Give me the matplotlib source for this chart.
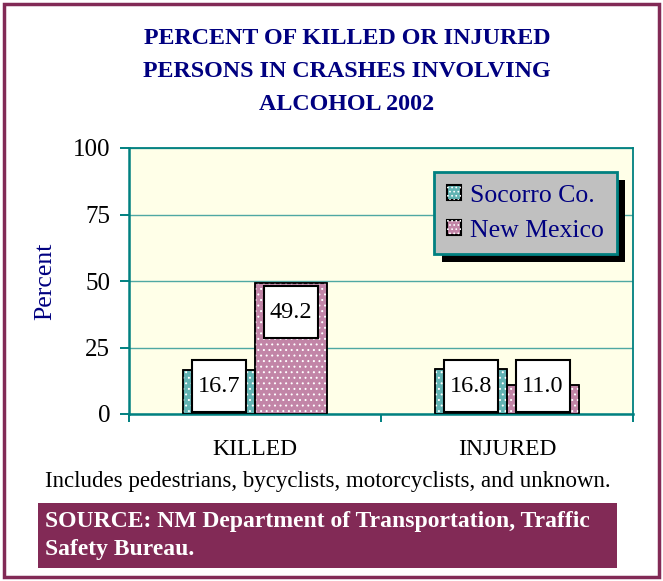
import matplotlib
matplotlib.use("Agg")
import matplotlib.pyplot as plt
from matplotlib.patches import Patch, Rectangle
from matplotlib.legend_handler import HandlerTuple
from matplotlib.transforms import IdentityTransform, blended_transform_factory

# Data
categories = ["KILLED", "INJURED"]
series_names = ["Socorro Co.", "New Mexico"]
socorro = [16.7, 16.8]
new_mexico = [49.2, 11.0]
y_ticks = [0, 25, 50, 75, 100]

title_lines = [
    "PERCENT OF KILLED OR INJURED",
    "PERSONS IN CRASHES INVOLVING",
    "ALCOHOL 2002",
]
footnote = "Includes pedestrians, bycyclists, motorcyclists, and unknown."
source_lines = [
    "SOURCE: NM Department of Transportation, Traffic",
    "Safety Bureau.",
]

# Styling
W, H = 663, 581
TEAL = "#008080"
GRID = "#4FA8A3"
NAVY = "#000080"
MAROON = "#822A56"
PLOT_BG = "#FFFFE8"
BAR_COLORS = ["#62B3B3", "#C285A7"]
SERIF = "Liberation Serif"

plt.rcParams["font.family"] = SERIF
plt.rcParams["hatch.linewidth"] = 0.7


def fx(px):
    return px / W


def fy(py):
    return 1 - py / H


fig = plt.figure(figsize=(W / 100, H / 100), dpi=100)
fig.patch.set_facecolor("white")

# outer maroon frame
fig.add_artist(Rectangle((fx(4), fy(577)), fx(655), 573 / H, transform=fig.transFigure,
                         fill=False, edgecolor=MAROON, linewidth=2.5))

ax = fig.add_axes([fx(129), fy(414), fx(504), 266 / H])
ax.set_facecolor(PLOT_BG)
ax.set_xlim(-0.5, 1.5)
ax.set_ylim(0, 100)
ax.set_axisbelow(True)

width = 0.286
x = list(range(len(categories)))
for i, (vals, color) in enumerate(zip([socorro, new_mexico], BAR_COLORS)):
    xs = [xi + (i - 0.5) * width for xi in x]
    ax.bar(xs, vals, width, color=color, edgecolor="black", linewidth=1.1, zorder=2)
    # white dotted texture on top of the fill
    ax.bar(xs, vals, width, color="none", edgecolor="white", hatch="...",
           linewidth=0, zorder=3)
    ax.bar(xs, vals, width, color="none", edgecolor="black", linewidth=1.1, zorder=4)

    # value labels in white boxes
    box_w, box_h = 0.214, 19.5
    for xc, v in zip(xs, vals):
        yc = max(v - 10.9, 10.5)
        ax.add_patch(Rectangle((xc - box_w / 2, yc - box_h / 2), box_w, box_h,
                               facecolor="white", edgecolor="black", linewidth=1.5,
                               zorder=5))
        ax.text(xc, yc, f"{v:.1f}", ha="center", va="center", fontsize=17.5,
                color="black", zorder=6)

# grid and axes
ax.set_yticks(y_ticks)
ax.yaxis.grid(True, color=GRID, linewidth=1.0)
ax.set_xticks([-0.5, 0.5, 1.5])
ax.set_xticklabels([])
ax.tick_params(axis="y", direction="out", length=6.5, width=1.4, color=TEAL,
               labelsize=18, pad=7, labelcolor="black")
ax.tick_params(axis="x", direction="out", length=6, width=1.4, color=TEAL)
for side in ["left", "bottom"]:
    ax.spines[side].set_color(TEAL)
    ax.spines[side].set_linewidth(1.8)
for side in ["top", "right"]:
    ax.spines[side].set_color(TEAL)
    ax.spines[side].set_linewidth(1.3)

ax.set_ylabel("Percent", fontsize=18.5, color=NAVY, labelpad=12)

# category labels under the groups
trans = blended_transform_factory(ax.transData, ax.transAxes)
for xi, cat in zip(x, categories):
    ax.text(xi, -0.132, cat, transform=trans, ha="center", va="center", fontsize=17)

# legend
handles = []
for color in BAR_COLORS:
    handles.append((Patch(facecolor=color, edgecolor="black", linewidth=1.5),
                    Patch(facecolor="none", edgecolor="white", hatch="....", linewidth=0)))
leg = ax.legend(handles, series_names, handler_map={tuple: HandlerTuple(ndivide=1)},
                loc="upper left", bbox_to_anchor=(0.605, 0.91), borderaxespad=0,
                fontsize=18.5, labelcolor=NAVY, facecolor="#C0C0C0", edgecolor=TEAL,
                framealpha=1, fancybox=False, handlelength=0.55, handleheight=0.55,
                handletextpad=0.35, borderpad=0.5, labelspacing=0.5)
leg.get_frame().set_linewidth(2)
leg.set_zorder(10)

# title
for i, line in enumerate(title_lines):
    fig.text(fx(347), fy(38 + 33.5 * i), line, ha="center", va="center",
             fontsize=17.3, fontweight="bold", color=NAVY)

fig.text(fx(45), fy(481), footnote, ha="left", va="center", fontsize=16.5)

# source banner
fig.add_artist(Rectangle((fx(38), fy(568)), fx(579), 65 / H, transform=fig.transFigure,
                         facecolor=MAROON, edgecolor="none"))
for i, line in enumerate(source_lines):
    fig.text(fx(45), fy(521 + 28 * i), line, ha="left", va="center", fontsize=17,
             fontweight="bold", color="white")

# legend drop shadow, placed once the legend size is known
fig.canvas.draw()
bb = leg.get_window_extent()
ax.add_patch(Rectangle((bb.x0 + 8, bb.y0 - 8), bb.width, bb.height,
                       transform=IdentityTransform(), facecolor="black",
                       edgecolor="none", zorder=9, clip_on=False))

fig.savefig("out.png", dpi=100)
